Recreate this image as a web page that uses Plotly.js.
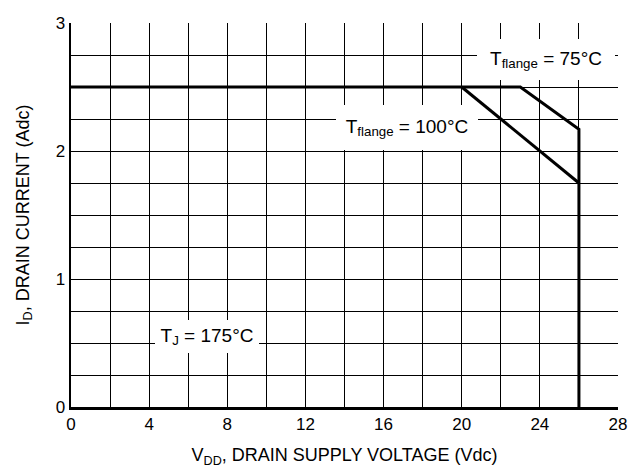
<!DOCTYPE html>
<html>
<head>
<meta charset="utf-8">
<script src="https://cdn.plot.ly/plotly-3.0.1.min.js"></script>
<style>html,body{margin:0;padding:0;background:#fff;}#chart{width:631px;height:468px;}</style>
</head>
<body>
<div id="chart"></div>
<script>
// Safe operating curves
var curve75X = [0, 23, 26, 26];
var curve75Y = [2.5, 2.5, 2.17, 0];
var curve100X = [20, 26];
var curve100Y = [2.5, 1.75];

var xTickVals = [0, 4, 8, 12, 16, 20, 24, 28];
var xTickText = ['0', '4', '8', '12', '16', '20', '24', '28'];
var yTickVals = [0, 1, 2, 3];
var yTickText = ['0', '1', '2', '3'];

var labelTexts = ['T<sub>flange</sub> = 75°C', 'T<sub>flange</sub> = 100°C', 'T<sub>J</sub> = 175°C'];
var labelX = [24.3, 17.2, 6.96];
var labelY = [2.715, 2.1875, 0.551];

var FONT = '"Liberation Sans Narrow", "Arial Narrow", "Liberation Sans", Arial, sans-serif';

var traces = [
  {x: curve75X, y: curve75Y, mode: 'lines', line: {color: '#000', width: 3}, hoverinfo: 'skip', showlegend: false},
  {x: curve100X, y: curve100Y, mode: 'lines', line: {color: '#000', width: 3}, hoverinfo: 'skip', showlegend: false}
];

var boxW = [138, 142, 104];
var boxH = [41, 45, 33];
var annotations = labelTexts.map(function (t, i) {
  return {x: labelX[i], y: labelY[i], xref: 'x', yref: 'y', text: t, showarrow: false,
    bgcolor: '#fff', width: boxW[i], height: boxH[i], borderpad: 0, borderwidth: 0,
    font: {family: FONT, size: 19, color: '#000'}};
});

var layout = {
  width: 631, height: 468,
  margin: {l: 71, r: 13, t: 23, b: 61},
  paper_bgcolor: '#fff', plot_bgcolor: '#fff',
  font: {family: FONT, color: '#000'},
  xaxis: {
    range: [0, 28], tickvals: xTickVals, ticktext: xTickText,
    showgrid: true, gridcolor: '#000', gridwidth: 1,
    minor: {dtick: 2, showgrid: true, gridcolor: '#000', gridwidth: 1, ticklen: 0},
    ticks: '', zeroline: false,
    showline: true, linecolor: '#000', linewidth: 2.5,
    tickfont: {family: FONT, size: 17, color: '#000'},
    title: {text: 'V<sub>DD</sub>, DRAIN SUPPLY VOLTAGE (Vdc)', font: {family: FONT, size: 18, color: '#000'}, standoff: 18},
    fixedrange: true
  },
  yaxis: {
    range: [0, 3], tickvals: yTickVals, ticktext: yTickText,
    showgrid: true, gridcolor: '#000', gridwidth: 1,
    minor: {dtick: 0.25, showgrid: true, gridcolor: '#000', gridwidth: 1, ticklen: 0},
    ticks: '', zeroline: false,
    showline: true, linecolor: '#000', linewidth: 2.5,
    tickfont: {family: FONT, size: 17, color: '#000'},
    title: {text: 'I<sub>D</sub>, DRAIN CURRENT (Adc)', font: {family: FONT, size: 18, color: '#000'}, standoff: 22},
    fixedrange: true
  },
  annotations: annotations,
  showlegend: false
};

Plotly.newPlot('chart', traces, layout, {displayModeBar: false, staticPlot: true});
</script>
</body>
</html>
